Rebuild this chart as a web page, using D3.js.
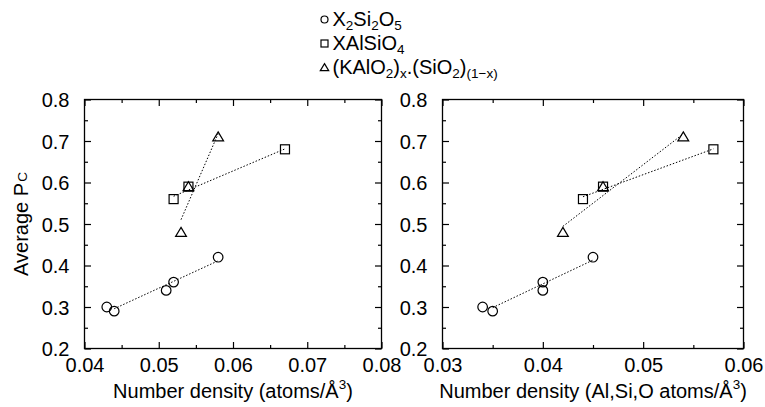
<!DOCTYPE html>
<html>
<head>
<meta charset="utf-8">
<script src="https://cdn.jsdelivr.net/npm/d3@7"></script>
<style>
  html, body { margin: 0; padding: 0; background: #fff; }
  svg { display: block; }
  text { font-family: "Liberation Sans", Arial, Helvetica, sans-serif; fill: #000; }
</style>
</head>
<body>
<svg id="chart" width="765" height="407"></svg>
<script>
// ---------------- data ----------------
const seriesNames = ["X2Si2O5", "XAlSiO4", "(KAlO2)x.(SiO2)(1-x)"];
const seriesSymbols = ["circle", "square", "triangle"];

// left panel: total number density (atoms/Å^3)
const leftCircleX   = [0.043, 0.044, 0.051, 0.052, 0.058];
const leftCircleY   = [0.30, 0.29, 0.34, 0.36, 0.42];
const leftSquareX   = [0.052, 0.054, 0.067];
const leftSquareY   = [0.56, 0.59, 0.68];
const leftTriangleX = [0.053, 0.054, 0.058];
const leftTriangleY = [0.48, 0.59, 0.71];
const leftFitRanges = [[0.044, 0.058], [0.052, 0.067], [0.053, 0.058]];

// right panel: Al,Si,O number density
const rightCircleX   = [0.034, 0.035, 0.040, 0.040, 0.045];
const rightCircleY   = [0.30, 0.29, 0.36, 0.34, 0.42];
const rightSquareX   = [0.044, 0.046, 0.057];
const rightSquareY   = [0.56, 0.59, 0.68];
const rightTriangleX = [0.042, 0.046, 0.054];
const rightTriangleY = [0.48, 0.59, 0.71];
const rightFitRanges = [[0.035, 0.045], [0.044, 0.057], [0.042, 0.054]];

const yTicks = [0.2, 0.3, 0.4, 0.5, 0.6, 0.7, 0.8];
const leftXTicks = [0.04, 0.05, 0.06, 0.07, 0.08];
const rightXTicks = [0.03, 0.04, 0.05, 0.06];

// ---------------- layout ----------------
const svg = d3.select("#chart");
const FONT = 20;
const yTop = 99.5, yBottom = 348.5;
const panels = [
  { x0: 84.5, x1: 381.5, domain: [0.04, 0.08], ticks: leftXTicks,
    xs: [leftCircleX, leftSquareX, leftTriangleX], ys: [leftCircleY, leftSquareY, leftTriangleY],
    fits: leftFitRanges, xlabel: ["Number density (atoms/Å", "3", ")"] },
  { x0: 442.5, x1: 743.5, domain: [0.03, 0.06], ticks: rightXTicks,
    xs: [rightCircleX, rightSquareX, rightTriangleX], ys: [rightCircleY, rightSquareY, rightTriangleY],
    fits: rightFitRanges, xlabel: ["Number density (Al,Si,O atoms/Å", "3", ")"] }
];

function linfit(xs, ys) {
  const n = xs.length;
  const mx = d3.mean(xs), my = d3.mean(ys);
  let sxy = 0, sxx = 0;
  for (let i = 0; i < n; i++) { sxy += (xs[i]-mx)*(ys[i]-my); sxx += (xs[i]-mx)*(xs[i]-mx); }
  const b = sxy / sxx;
  return x => my + b * (x - mx);
}

function drawSymbol(g, type, cx, cy, s) {
  if (type === "circle") {
    g.append("circle").attr("cx", cx).attr("cy", cy).attr("r", s)
      .attr("fill", "none").attr("stroke", "#000").attr("stroke-width", 1.2);
  } else if (type === "square") {
    g.append("rect").attr("x", cx - s).attr("y", cy - s).attr("width", 2*s).attr("height", 2*s)
      .attr("fill", "none").attr("stroke", "#000").attr("stroke-width", 1.2);
  } else {
    const h = s * 2.0;
    g.append("path")
      .attr("d", `M${cx},${cy - h*0.55}L${cx + s*1.2},${cy + h*0.45}L${cx - s*1.2},${cy + h*0.45}Z`)
      .attr("fill", "none").attr("stroke", "#000").attr("stroke-width", 1.2);
  }
}

function styleAxis(g) {
  g.attr("font-family", null).attr("font-size", null);
  g.selectAll("path.domain").remove();
  g.selectAll("line").attr("stroke", "#000").attr("stroke-width", 1.2);
  g.selectAll("text").style("font-size", FONT + "px");
}

panels.forEach(p => {
  const x = d3.scaleLinear().domain(p.domain).range([p.x0, p.x1]);
  const y = d3.scaleLinear().domain([0.2, 0.8]).range([yBottom, yTop]);
  const minorX = d3.range(p.domain[0] + 0.005, p.domain[1], 0.01);
  const minorY = d3.range(0.25, 0.8, 0.1);

  // major ticks with labels
  svg.append("g").attr("transform", `translate(0,${yBottom})`)
    .call(d3.axisBottom(x).tickValues(p.ticks).tickSize(-6.5).tickPadding(9).tickFormat(d3.format(".2f")))
    .call(styleAxis);
  svg.append("g").attr("transform", `translate(${p.x0},0)`)
    .call(d3.axisLeft(y).tickValues(yTicks).tickSize(-6.5).tickPadding(15).tickFormat(d3.format(".1f")))
    .call(styleAxis)
    .selectAll("text").attr("dy", "0.35em");
  svg.append("g").attr("transform", `translate(0,${yTop})`)
    .call(d3.axisTop(x).tickValues(p.ticks).tickSize(-6.5).tickFormat(""))
    .call(styleAxis);
  svg.append("g").attr("transform", `translate(${p.x1},0)`)
    .call(d3.axisRight(y).tickValues(yTicks).tickSize(-6.5).tickFormat(""))
    .call(styleAxis);
  // minor ticks
  svg.append("g").attr("transform", `translate(0,${yBottom})`)
    .call(d3.axisBottom(x).tickValues(minorX).tickSize(-3.5).tickFormat("")).call(styleAxis);
  svg.append("g").attr("transform", `translate(0,${yTop})`)
    .call(d3.axisTop(x).tickValues(minorX).tickSize(-3.5).tickFormat("")).call(styleAxis);
  svg.append("g").attr("transform", `translate(${p.x0},0)`)
    .call(d3.axisLeft(y).tickValues(minorY).tickSize(-3.5).tickFormat("")).call(styleAxis);
  svg.append("g").attr("transform", `translate(${p.x1},0)`)
    .call(d3.axisRight(y).tickValues(minorY).tickSize(-3.5).tickFormat("")).call(styleAxis);

  // frame
  svg.append("rect").attr("x", p.x0).attr("y", yTop)
    .attr("width", p.x1 - p.x0).attr("height", yBottom - yTop)
    .attr("fill", "none").attr("stroke", "#000").attr("stroke-width", 1.3);

  // fit lines
  p.xs.forEach((xs, i) => {
    const f = linfit(xs, p.ys[i]);
    const r = p.fits[i];
    svg.append("line")
      .attr("x1", x(r[0])).attr("y1", y(f(r[0])))
      .attr("x2", x(r[1])).attr("y2", y(f(r[1])))
      .attr("stroke", "#000").attr("stroke-width", 1)
      .attr("stroke-dasharray", "1.5,1.8");
  });

  // markers
  const mg = svg.append("g");
  p.xs.forEach((xs, i) => {
    xs.forEach((xv, j) => drawSymbol(mg, seriesSymbols[i], x(xv), y(p.ys[i][j]), i === 0 ? 4.8 : 4.5));
  });

  // x label
  const t = svg.append("text").attr("x", (p.x0 + p.x1) / 2).attr("y", 398)
    .attr("text-anchor", "middle").style("font-size", FONT + "px");
  t.append("tspan").text(p.xlabel[0]);
  t.append("tspan").attr("dy", -9).style("font-size", "13.5px").text(p.xlabel[1]);
  t.append("tspan").attr("dy", 9).text(p.xlabel[2]);
});

// y label
const yl = svg.append("text")
  .attr("transform", `translate(28,${(yTop + yBottom) / 2}) rotate(-90)`)
  .attr("text-anchor", "middle").style("font-size", FONT + "px");
yl.append("tspan").text("Average P");
yl.append("tspan").attr("dy", -1.5).attr("dx", 1).style("font-size", "13.5px").text("C");

// legend
const legendParts = [
  [["X", 0], ["2", 1], ["Si", 0], ["2", 1], ["O", 0], ["5", 1]],
  [["XAlSiO", 0], ["4", 1]],
  [["(KAlO", 0], ["2", 1], [")", 0], ["x", 1], [".(SiO", 0], ["2", 1], [")", 0], ["(1−x)", 1]]
];
const legendBase = [26, 50, 74];
legendParts.forEach((parts, i) => {
  const g = svg.append("g");
  drawSymbol(g, seriesSymbols[i], 324.5, legendBase[i] - 6.5, 3.5);
  const t = g.append("text").attr("x", 332.5).attr("y", legendBase[i]).style("font-size", "20px");
  let shifted = false;
  parts.forEach(([s, sub]) => {
    const ts = t.append("tspan").text(s);
    if (sub && !shifted) { ts.attr("dy", 4).style("font-size", "13.5px"); shifted = true; }
    else if (sub) { ts.style("font-size", "13.5px"); }
    else if (!sub && shifted) { ts.attr("dy", -4); shifted = false; }
  });
});
</script>
</body>
</html>
